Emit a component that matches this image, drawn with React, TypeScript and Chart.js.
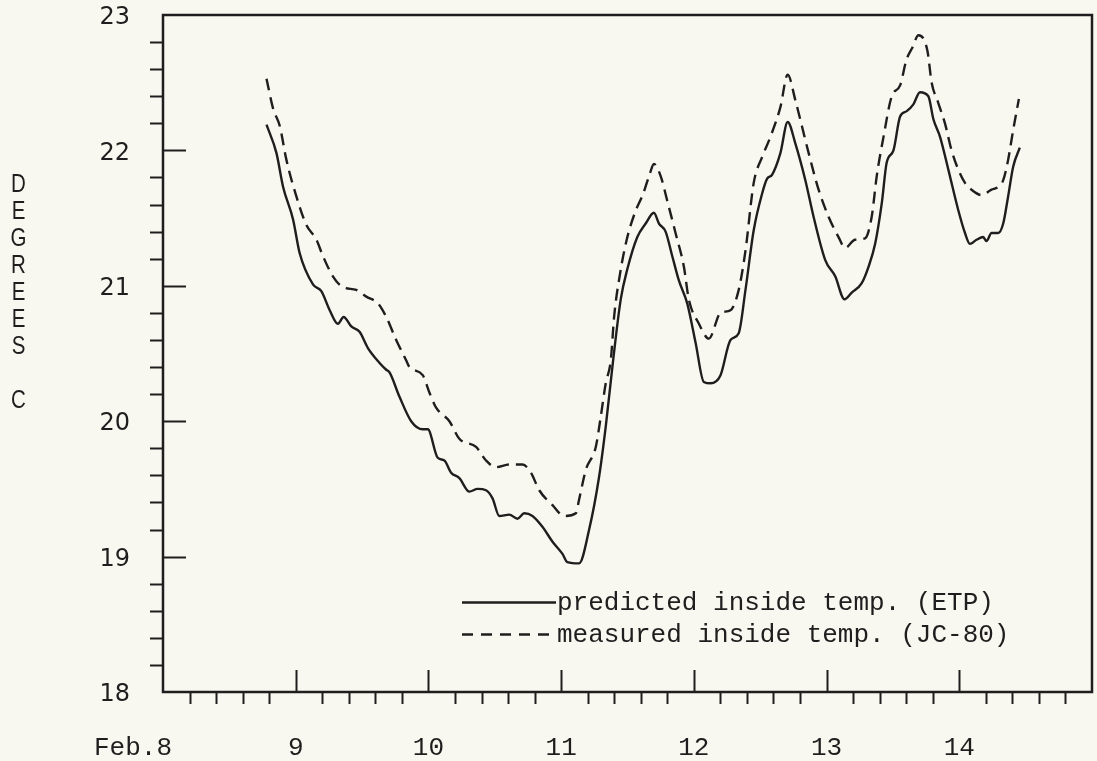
import React, { useEffect, useRef } from 'react';
import { Chart, registerables } from 'chart.js';

Chart.register(...registerables);

// ---- data (day of February, degrees C) ----
const predictedDays = [
  8.78, 8.855, 8.905, 8.98, 9.03, 9.13, 9.193, 9.256, 9.318, 9.361, 9.419, 9.481, 9.544, 9.632,
  9.682, 9.707, 9.782, 9.87, 9.957, 9.995, 10.07, 10.12, 10.171, 10.233, 10.308, 10.371, 10.434,
  10.483, 10.534, 10.609, 10.671, 10.722, 10.784, 10.859, 10.935, 11.01, 11.047, 11.135, 11.211,
  11.286, 11.336, 11.386, 11.449, 11.498, 11.574, 11.637, 11.699, 11.737, 11.787, 11.837, 11.887,
  11.95, 12.013, 12.075, 12.126, 12.201, 12.276, 12.338, 12.389, 12.451, 12.514, 12.551, 12.589,
  12.652, 12.707, 12.765, 12.84, 12.902, 12.99, 13.065, 13.135, 13.19, 13.265, 13.316, 13.366,
  13.416, 13.453, 13.504, 13.554, 13.604, 13.654, 13.704, 13.767, 13.805, 13.855, 13.917, 13.992,
  14.043, 14.08, 14.13, 14.18, 14.205, 14.243, 14.293, 14.331, 14.368, 14.406, 14.456,
];
const predictedTemps = [
  22.19, 21.98, 21.73, 21.49, 21.24, 21.01, 20.96, 20.82, 20.72, 20.77, 20.7, 20.66, 20.54, 20.43,
  20.38, 20.36, 20.18, 20.0, 19.94, 19.94, 19.73, 19.71, 19.62, 19.58, 19.48, 19.5, 19.49,
  19.43, 19.3, 19.31, 19.28, 19.32, 19.3, 19.22, 19.11, 19.02, 18.96, 18.95, 19.2,
  19.59, 19.96, 20.4, 20.9, 21.12, 21.36, 21.46, 21.54, 21.46, 21.4, 21.22, 21.04,
  20.87, 20.58, 20.29, 20.28, 20.34, 20.6, 20.65, 20.97, 21.41, 21.68, 21.79, 21.82,
  21.98, 22.21, 22.05, 21.78, 21.51, 21.19, 21.07, 20.9, 20.95, 21.02, 21.14, 21.31,
  21.61, 21.91, 22.0, 22.25, 22.29, 22.34, 22.43, 22.4, 22.23, 22.1, 21.86, 21.56,
  21.39, 21.31, 21.34, 21.36, 21.33, 21.39, 21.39, 21.46, 21.66, 21.88, 22.02,
];
const measuredDays = [
  8.78, 8.829, 8.88, 8.93, 9.005, 9.08, 9.156, 9.205, 9.28, 9.356, 9.456, 9.532, 9.619, 9.682,
  9.757, 9.832, 9.857, 9.957, 10.008, 10.058, 10.158, 10.233, 10.359, 10.434, 10.508, 10.609,
  10.709, 10.772, 10.835, 10.935, 11.023, 11.111, 11.135, 11.186, 11.261, 11.298, 11.336, 11.374,
  11.4, 11.444, 11.494, 11.556, 11.618, 11.669, 11.699, 11.75, 11.799, 11.862, 11.925, 11.962,
  12.038, 12.113, 12.201, 12.276, 12.338, 12.389, 12.451, 12.514, 12.577, 12.652, 12.707, 12.765,
  12.814, 12.865, 12.94, 13.015, 13.09, 13.14, 13.215, 13.29, 13.34, 13.378, 13.429, 13.491,
  13.554, 13.602, 13.647, 13.692, 13.759, 13.792, 13.842, 13.892, 13.942, 13.992, 14.043, 14.092,
  14.168, 14.243, 14.293, 14.331, 14.368, 14.406, 14.449,
];
const measuredTemps = [
  22.53, 22.31, 22.18, 21.93, 21.66, 21.45, 21.34, 21.22, 21.07, 20.99, 20.97, 20.92, 20.87, 20.77,
  20.6, 20.45, 20.4, 20.34, 20.21, 20.1, 20.0, 19.87, 19.81, 19.71, 19.66, 19.68,
  19.68, 19.62, 19.49, 19.38, 19.3, 19.32, 19.42, 19.64, 19.81, 20.03, 20.28, 20.45,
  20.78, 21.09, 21.34, 21.54, 21.68, 21.83, 21.9, 21.81, 21.63, 21.39, 21.14, 20.9,
  20.72, 20.61, 20.8, 20.82, 20.97, 21.26, 21.76, 21.95, 22.1, 22.32, 22.56, 22.37,
  22.18, 21.98, 21.71, 21.51, 21.36, 21.28, 21.34, 21.35, 21.51, 21.81, 22.1, 22.4,
  22.48, 22.67, 22.76, 22.85, 22.74, 22.5, 22.35, 22.2, 22.0, 21.86, 21.76, 21.71,
  21.67, 21.71, 21.73, 21.78, 21.93, 22.15, 22.38,
];

const seriesLabels = ['predicted inside temp. (ETP)', 'measured inside temp. (JC-80)'];
const xTickValues = [8, 9, 10, 11, 12, 13, 14];
const xTickLabels = ['Feb.8', '9', '10', '11', '12', '13', '14'];
const yTickValues = [18, 19, 20, 21, 22, 23];
const yTickLabels = ['18', '19', '20', '21', '22', '23'];
const yAxisTitle = 'DEGREES C';

const INK = '#1e1e1e';
const BG = '#f9f8f0';

const framePlugin = {
  id: 'frame',
  afterDraw(chart: any) {
    const { ctx, chartArea: a, scales } = chart;
    const xs = scales.x;
    const ys = scales.y;
    ctx.save();
    ctx.strokeStyle = INK;
    ctx.fillStyle = INK;
    ctx.lineCap = 'butt';

    // box
    ctx.lineWidth = 2.5;
    ctx.strokeRect(a.left, a.top, a.right - a.left, a.bottom - a.top);

    // y ticks: majors inward, minors outward (every 0.2)
    ctx.lineWidth = 2;
    for (let k = 91; k < 115; k++) {
      const v = k / 5;
      const py = Math.round(ys.getPixelForValue(v)) + 0.5;
      ctx.beginPath();
      if (k % 5 === 0) {
        ctx.moveTo(a.left, py);
        ctx.lineTo(a.left + 23, py);
      } else {
        ctx.moveTo(a.left - 13, py);
        ctx.lineTo(a.left, py);
      }
      ctx.stroke();
    }
    // x ticks
    for (let k = 41; k < 75; k++) {
      const v = k / 5;
      const px = Math.round(xs.getPixelForValue(v)) + 0.5;
      ctx.beginPath();
      if (k % 5 === 0) {
        ctx.moveTo(px, a.bottom);
        ctx.lineTo(px, a.bottom - 22);
      } else {
        ctx.moveTo(px, a.bottom);
        ctx.lineTo(px, a.bottom + 12);
      }
      ctx.stroke();
    }

    // y tick labels
    ctx.font = '24px "DejaVu Sans", sans-serif';
    ctx.textAlign = 'right';
    ctx.textBaseline = 'middle';
    yTickValues.forEach((v, i) => {
      const py = ys.getPixelForValue(v);
      ctx.fillText(yTickLabels[i], a.left - 33, py + 3);
    });

    // x tick labels
    ctx.font = '26px "Liberation Mono", monospace';
    ctx.textBaseline = 'alphabetic';
    xTickValues.forEach((v, i) => {
      const px = xs.getPixelForValue(v);
      if (i === 0) {
        ctx.textAlign = 'right';
        ctx.fillText(xTickLabels[i], px + 9, a.bottom + 63);
      } else {
        ctx.textAlign = 'center';
        ctx.fillText(xTickLabels[i], px, a.bottom + 63);
      }
    });

    // y axis title, stacked letters
    ctx.font = '25px "Liberation Sans", sans-serif';
    ctx.textAlign = 'center';
    ctx.textBaseline = 'middle';
    yAxisTitle.split('').forEach((c, i) => {
      if (c === ' ') return;
      ctx.save();
      ctx.translate(18.5, 185 + i * 27);
      ctx.scale(0.82, 1);
      ctx.fillText(c, 0, 0);
      ctx.restore();
    });

    // legend
    const lx0 = a.left + 299;
    const lx1 = a.left + 393;
    const rows = [a.bottom - 82, a.bottom - 50];
    chart.data.datasets.forEach((ds: any, i: number) => {
      const base = rows[i];
      ctx.lineWidth = 2.5;
      ctx.setLineDash(ds.borderDash && ds.borderDash.length ? [11, 8] : []);
      ctx.beginPath();
      ctx.moveTo(lx0, base - 7.5);
      ctx.lineTo(lx1, base - 7.5);
      ctx.stroke();
      ctx.setLineDash([]);
      ctx.font = '26px "Liberation Mono", monospace';
      ctx.textAlign = 'left';
      ctx.textBaseline = 'alphabetic';
      ctx.fillText(ds.label, lx1 + 1, base);
    });
    ctx.restore();
  },
};

export default function App() {
  const canvasRef = useRef<HTMLCanvasElement | null>(null);

  useEffect(() => {
    const canvas = canvasRef.current;
    if (!canvas) return;
    const chart = new Chart(canvas, {
      type: 'line',
      data: {
        datasets: [
          {
            label: seriesLabels[0],
            data: predictedDays.map((d, i) => ({ x: d, y: predictedTemps[i] })),
            borderColor: INK,
            borderWidth: 2.4,
            pointRadius: 0,
            fill: false,
            cubicInterpolationMode: 'monotone',
            borderDash: [],
          },
          {
            label: seriesLabels[1],
            data: measuredDays.map((d, i) => ({ x: d, y: measuredTemps[i] })),
            borderColor: INK,
            borderWidth: 2.4,
            pointRadius: 0,
            fill: false,
            cubicInterpolationMode: 'monotone',
            borderDash: [12, 7],
          },
        ],
      },
      options: {
        animation: false,
        responsive: false,
        devicePixelRatio: 1,
        layout: { padding: { left: 163, top: 15, right: 5, bottom: 69 } },
        plugins: {
          legend: { display: false },
          tooltip: { enabled: false },
          title: { display: false },
        },
        scales: {
          x: { type: 'linear', min: 8, max: 15, display: false },
          y: { type: 'linear', min: 18, max: 23, display: false },
        },
      },
      plugins: [framePlugin],
    });
    return () => chart.destroy();
  }, []);

  return (
    <div
      style={{
        position: 'fixed',
        left: 0,
        top: 0,
        width: 1097,
        height: 761,
        background: BG,
      }}
    >
      <canvas ref={canvasRef} width={1097} height={761} style={{ display: 'block' }} />
    </div>
  );
}
